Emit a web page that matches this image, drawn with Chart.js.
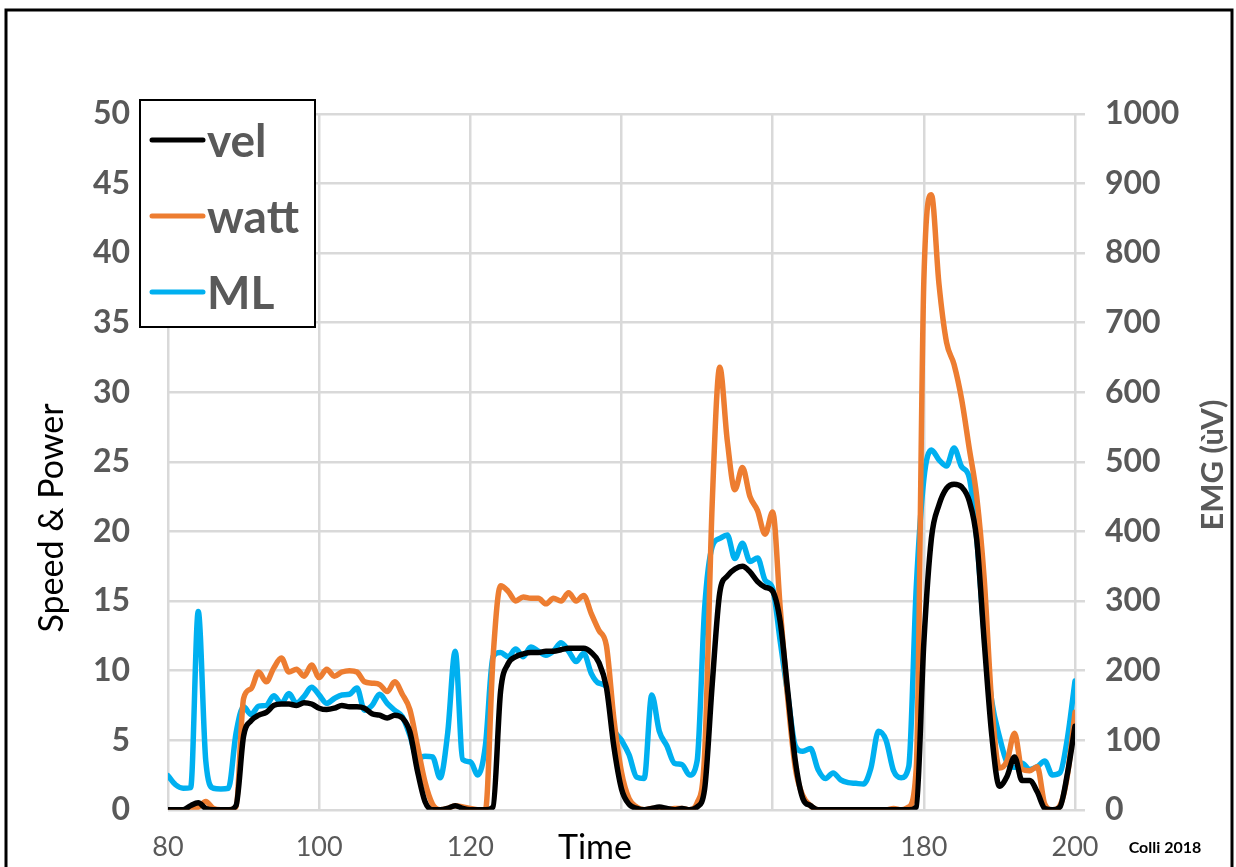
<!DOCTYPE html>
<html>
<head>
<meta charset="utf-8">
<title>vel / watt / ML</title>
<script src="https://cdn.jsdelivr.net/npm/chart.js@4.4.1/dist/chart.umd.min.js"></script>
<style>
  body { margin: 0; background: #fff; }
  canvas { display: block; }
</style>
</head>
<body>
<canvas id="emgChart" width="1236" height="867"></canvas>
<script>
// time in seconds
const times = [
  80, 81, 82, 83, 84, 85, 86, 87, 88, 89, 90, 91, 92, 93, 94, 95, 96, 97, 98, 99,
  100, 101, 102, 103, 104, 105, 106, 107, 108, 109, 110, 111, 112, 113, 114, 115, 116, 117, 118, 119,
  120, 121, 122, 123, 124, 125, 126, 127, 128, 129, 130, 131, 132, 133, 134, 135, 136, 137, 138, 139,
  140, 141, 142, 143, 144, 145, 146, 147, 148, 149, 150, 151, 152, 153, 154, 155, 156, 157, 158, 159,
  160, 161, 162, 163, 164, 165, 166, 167, 168, 169, 170, 171, 172, 173, 174, 175, 176, 177, 178, 179,
  180, 181, 182, 183, 184, 185, 186, 187, 188, 189, 190, 191, 192, 193, 194, 195, 196, 197, 198, 199,
  200
];

// speed (left axis)
const vel = [
  0, 0, 0, 0.3, 0.5, 0.1, 0, 0, 0, 0.3, 5.3, 6.4, 6.8, 7.0, 7.5, 7.6, 7.6, 7.5, 7.7, 7.6,
  7.3, 7.2, 7.3, 7.5, 7.4, 7.4, 7.3, 6.9, 6.8, 6.6, 6.8, 6.6, 5.6, 2.8, 0.6, 0, 0, 0.1, 0.3, 0.1,
  0, 0, 0, 0.2, 8.5, 10.5, 11.0, 11.2, 11.3, 11.3, 11.4, 11.4, 11.5, 11.6, 11.6, 11.6, 11.3, 10.6, 8.8, 4.5,
  1.5, 0.4, 0.1, 0, 0.1, 0.2, 0.1, 0, 0.1, 0, 0.2, 1.5, 9.0, 15.6, 16.8, 17.3, 17.5, 17.1, 16.4, 16.0,
  15.7, 13.5, 8.5, 3.5, 0.8, 0.3, 0, 0, 0, 0, 0, 0, 0, 0, 0, 0, 0, 0, 0, 0.2,
  12.0, 19.5, 21.9, 23.1, 23.4, 23.2, 22.2, 19.4, 12.0, 5.3, 1.7, 2.4, 3.8, 2.1, 2.1, 1.3, 0.1, 0, 0.2, 2.6,
  6.0
];

// power (left axis)
const watt = [
  0, 0, 0, 0, 0.2, 0.6, 0.1, 0, 0, 0.2, 8.0, 8.7, 9.9, 9.2, 10.2, 10.9, 9.9, 10.1, 9.6, 10.4,
  9.5, 10.1, 9.6, 9.9, 10.0, 9.9, 9.2, 9.1, 9.0, 8.5, 9.2, 8.3, 7.2, 4.6, 2.0, 0.4, 0, 0.1, 0.3, 0.2,
  0.1, 0, 0, 10.9, 16.1, 15.7, 15.0, 15.3, 15.2, 15.2, 14.8, 15.2, 15.0, 15.6, 15.0, 15.4, 14.1, 12.9, 11.8, 6.5,
  2.7, 0.8, 0.2, 0, 0.1, 0.1, 0, 0.1, 0.1, 0, 0.5, 4.0, 22.0, 31.8, 26.5, 23.0, 24.6, 22.5, 21.5, 19.8,
  21.4, 14.5, 8.0, 3.0, 1.0, 0.3, 0, 0, 0, 0, 0, 0, 0, 0, 0, 0, 0.1, 0, 0.2, 3.0,
  38.0, 44.2, 37.8, 33.6, 32.0, 29.5, 26.0, 22.5, 16.5, 7.5, 3.0, 3.5, 5.5, 2.9, 2.8, 3.1, 0.4, 0, 0.3, 2.5,
  7.0
];

// EMG, uV (right axis)
const ml = [
  49, 36, 31, 32, 285, 70, 31, 30, 31, 110, 148, 137, 149, 150, 164, 153, 167, 153, 163, 176,
  165, 153, 160, 165, 166, 175, 143, 150, 166, 153, 143, 134, 107, 74, 77, 76, 46, 110, 228, 72,
  69, 50, 93, 220, 226, 220, 231, 220, 234, 228, 222, 228, 240, 228, 213, 225, 196, 182, 177, 117,
  100, 79, 47, 45, 165, 113, 92, 67, 65, 50, 70, 290, 378, 390, 395, 361, 383, 357, 362, 330,
  318, 242, 165, 92, 84, 88, 58, 45, 53, 43, 39, 38, 37, 60, 113, 100, 56, 46, 62, 320,
  475, 517, 503, 494, 520, 493, 478, 390, 250, 155, 105, 68, 61, 67, 58, 62, 70, 50, 53, 103,
  185
];

// x labels that are printed (140 and 160 sit under the axis title)
const xLabelsShown = [80, 100, 120, 180, 200];

const gridGrey = '#d9d9d9';
const tickGrey = '#595959';

function pairs(ys) {
  return times.map((t, i) => ({ x: t, y: ys[i] }));
}

// white page with the black frame
const framePlugin = {
  id: 'frame',
  beforeDraw(chart) {
    const c = chart.ctx;
    c.save();
    c.fillStyle = '#fff';
    c.fillRect(0, 0, chart.width, chart.height);
    c.restore();
  },
  afterDraw(chart) {
    const c = chart.ctx;
    c.save();
    c.strokeStyle = '#000';
    c.lineWidth = 3;
    c.beginPath();
    c.moveTo(6, 900);
    c.lineTo(6, 10);
    c.lineTo(1232, 10);
    c.lineTo(1232, 900);
    c.stroke();
    c.restore();
  }
};

// boxed legend in the top-left corner and the axis titles
const labelsPlugin = {
  id: 'labels',
  afterDraw(chart) {
    const c = chart.ctx;
    c.save();

    // legend
    c.fillStyle = '#fff';
    c.fillRect(140, 100, 175, 227);
    c.strokeStyle = '#000';
    c.lineWidth = 2;
    c.strokeRect(140, 100, 175, 227);
    const rowY = [140, 216, 292];
    chart.data.datasets.forEach((ds, i) => {
      c.strokeStyle = ds.borderColor;
      c.lineWidth = 5;
      c.lineCap = 'round';
      c.beginPath();
      c.moveTo(152, rowY[i]);
      c.lineTo(203, rowY[i]);
      c.stroke();
      c.fillStyle = tickGrey;
      c.font = 'bold 46px Lato';
      c.textAlign = 'left';
      c.textBaseline = 'middle';
      c.fillText(ds.label, 207, rowY[i] + 2);
    });

    // left axis title
    c.fillStyle = '#000';
    c.font = '34px Lato';
    c.textAlign = 'center';
    c.textBaseline = 'middle';
    c.save();
    c.translate(52, 518);
    c.rotate(-Math.PI / 2);
    c.fillText('Speed & Power', 0, 0);
    c.restore();

    // right axis title
    c.fillStyle = tickGrey;
    c.font = 'bold 31px Lato';
    c.save();
    c.translate(1213, 465);
    c.rotate(-Math.PI / 2);
    c.fillText('EMG (ùV)', 0, 0);
    c.restore();

    // x axis title and credit
    c.fillStyle = '#000';
    c.font = '34px Lato';
    c.fillText('Time', 595, 848);
    c.font = 'bold 16px Lato';
    c.fillText('Colli 2018', 1165, 848);

    c.restore();
  }
};

const ctx = document.getElementById('emgChart').getContext('2d');
const emgChart = new Chart(ctx, {
  type: 'line',
  data: {
    datasets: [
      {
        label: 'vel',
        data: pairs(vel),
        borderColor: '#000000',
        yAxisID: 'y'
      },
      {
        label: 'watt',
        data: pairs(watt),
        borderColor: '#ED7D31',
        yAxisID: 'y'
      },
      {
        label: 'ML',
        data: pairs(ml),
        borderColor: '#00B0F0',
        yAxisID: 'y2'
      }
    ]
  },
  options: {
    responsive: false,
    animation: false,
    layout: { padding: { top: 114, left: 0, right: 0, bottom: 0 } },
    elements: {
      point: { radius: 0 },
      line: { borderWidth: 5.5, cubicInterpolationMode: 'monotone', fill: false, borderJoinStyle: 'round', borderCapStyle: 'round' }
    },
    plugins: {
      legend: { display: false },
      tooltip: { enabled: false }
    },
    scales: {
      x: {
        type: 'linear',
        min: 80,
        max: 200,
        afterFit(scale) { scale.height = 55; },
        border: { display: false },
        grid: { color: gridGrey, lineWidth: 2.5, drawTicks: false },
        ticks: {
          stepSize: 20,
          padding: 21,
          color: tickGrey,
          font: { family: 'Lato', size: 27 },
          maxRotation: 0,
          callback: (v) => xLabelsShown.includes(v) ? String(v) : ''
        }
      },
      y: {
        position: 'left',
        min: 0,
        max: 50,
        afterFit(scale) { scale.width = 168; },
        border: { display: false },
        grid: { color: gridGrey, lineWidth: 2.5, drawTicks: false },
        ticks: {
          stepSize: 5,
          padding: 38,
          color: tickGrey,
          font: { family: 'Lato', size: 32, weight: 'bold' },
          callback: (v) => String(v)
        }
      },
      y2: {
        position: 'right',
        min: 0,
        max: 1000,
        afterFit(scale) { scale.width = 161; },
        border: { display: false },
        grid: { color: gridGrey, lineWidth: 2.5, drawOnChartArea: false, drawTicks: true, tickLength: 10 },
        ticks: {
          stepSize: 100,
          padding: 20,
          color: tickGrey,
          font: { family: 'Lato', size: 32, weight: 'bold' },
          callback: (v) => String(v)
        }
      }
    }
  },
  plugins: [framePlugin, labelsPlugin]
});
</script>
</body>
</html>
